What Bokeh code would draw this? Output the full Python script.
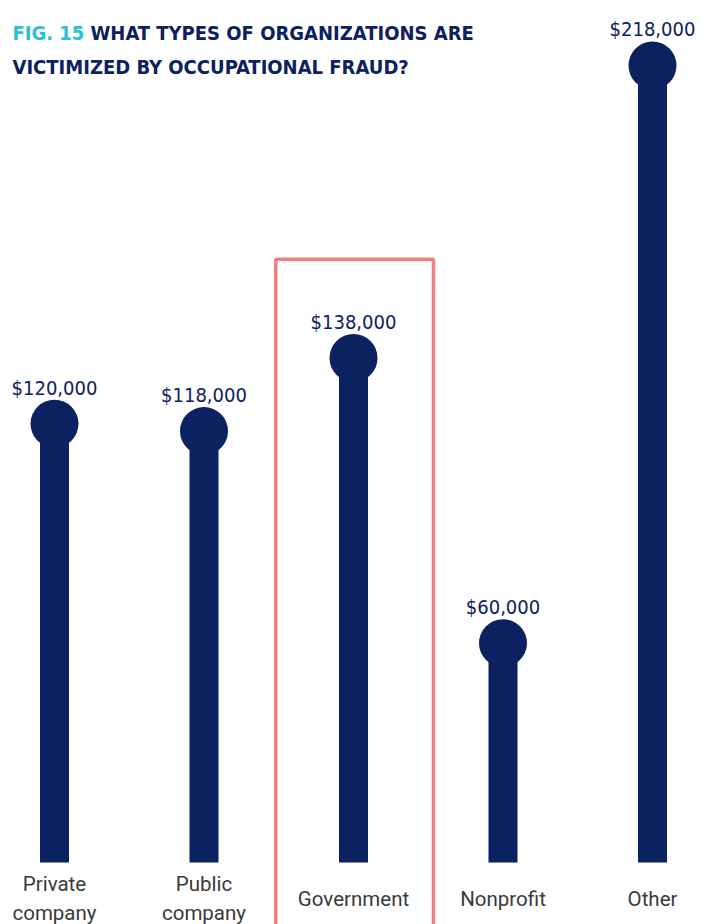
from bokeh.plotting import figure
from bokeh.models import Range1d, Label, ColumnDataSource
from bokeh.core.properties import value
from bokeh.embed import file_html
from bokeh.resources import INLINE

categories = ["Private\ncompany", "Public\ncompany", "Government", "Nonprofit", "Other"]
losses = [120000, 118000, 138000, 60000, 218000]
value_labels = ["$120,000", "$118,000", "$138,000", "$60,000", "$218,000"]
highlight = "Government"

NAVY = "#0B2160"
CYAN = "#2DBFD3"
SALMON = "#F08080"
COND = "'DejaVu Sans Condensed', 'Liberation Sans Narrow', 'Roboto Condensed', Roboto, sans-serif"

W, H = 702, 924
idx = list(range(len(categories)))
src = ColumnDataSource(dict(x=idx, top=losses, zero=[0] * len(idx),
                            lab=value_labels, cat=categories))

p = figure(width=W, height=H, output_backend="svg", toolbar_location=None,
           x_range=Range1d(-0.3612, 4.3344), y_range=Range1d(-16958, 235777),
           x_axis_location=None, y_axis_location=None, min_border=0)
p.grid.visible = False
p.outline_line_color = None
p.background_fill_color = "white"
p.border_fill_color = "white"

# highlight box around the Government column
hi = categories.index(highlight)
p.quad(left=[hi - 0.52], right=[hi + 0.535], top=[losses[hi] + 27000],
       bottom=[-60000], fill_alpha=0, line_color=SALMON, line_width=3.5)

p.vbar(x="x", top="top", bottom="zero", width=0.194, source=src,
       fill_color=NAVY, line_color=None)
p.scatter(x="x", y="top", size=48, source=src, fill_color=NAVY, line_color=None)

p.text(x="x", y="top", text="lab", source=src, y_offset=-36,
       text_align="center", text_baseline="alphabetic",
       text_font=value(COND), text_font_size="20px",
       text_color=NAVY)

p.text(x="x", y="zero", text="cat", source=src, y_offset=36,
       text_align="center", text_baseline="middle", text_line_height=1.2,
       text_font=value("Roboto"), text_font_size="20.5px", text_color="#3A3A3A")

for txt, x, y, col in [("FIG. 15", 12, 32, CYAN),
                       ("WHAT TYPES OF ORGANIZATIONS ARE", 90, 32, NAVY),
                       ("VICTIMIZED BY OCCUPATIONAL FRAUD?", 12, 66, NAVY)]:
    p.add_layout(Label(x=x, y=H - y, x_units="screen", y_units="screen",
                       text=txt, text_color=col, text_font=COND,
                       text_font_style="bold", text_font_size="20px",
                       text_baseline="alphabetic"))

open("out.html", "w").write(file_html(p, INLINE))
